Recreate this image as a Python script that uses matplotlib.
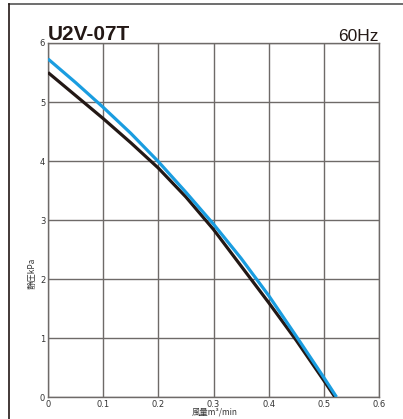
import matplotlib
matplotlib.use("Agg")
import matplotlib.pyplot as plt
from matplotlib.lines import Line2D

plt.rcParams['font.family'] = ['Noto Sans CJK JP', 'DejaVu Sans']

# Blue curve
flow_b = [0.0, 0.05, 0.1, 0.15, 0.2, 0.25, 0.3, 0.35, 0.4, 0.45, 0.5, 0.523]
pres_b = [5.73, 5.33, 4.91, 4.47, 3.99, 3.47, 2.93, 2.35, 1.72, 1.03, 0.33, 0.0]
# Black curve
flow_k = [0.0, 0.05, 0.1, 0.15, 0.2, 0.25, 0.3, 0.35, 0.4, 0.45, 0.5, 0.52]
pres_k = [5.50, 5.11, 4.72, 4.31, 3.88, 3.39, 2.84, 2.22, 1.60, 0.96, 0.28, 0.0]

xticks = [0, 0.1, 0.2, 0.3, 0.4, 0.5, 0.6]
xticklabels = ["0", "0.1", "0.2", "0.3", "0.4", "0.5", "0.6"]
yticks = [0, 1, 2, 3, 4, 5, 6]

W, H = 403, 419
fig = plt.figure(figsize=(W/100, H/100), dpi=100)
ax = fig.add_axes([48/W, 1-397/H, (379-48)/W, (397-43)/H])
ax.set_xlim(0, 0.6)
ax.set_ylim(0, 6)
ax.set_xticks(xticks)
ax.set_xticklabels(xticklabels)
ax.set_yticks(yticks)
ax.tick_params(length=0, labelsize=6, pad=2, colors='#333333')
for lbl in ax.get_xticklabels() + ax.get_yticklabels():
    lbl.set_fontfamily(['Liberation Sans Narrow', 'DejaVu Sans'])
ax.grid(True, color='#6e6a68', linewidth=1.0)
for s in ax.spines.values():
    s.set_color('#6e6a68')
    s.set_linewidth(1.0)

ax.plot(flow_k, pres_k, color='#231815', linewidth=2.3, solid_capstyle='butt',
        solid_joinstyle='round', zorder=3)
ax.plot(flow_b, pres_b, color='#1a9de0', linewidth=2.3, solid_capstyle='butt',
        solid_joinstyle='round', zorder=4)

fig.text(48/W, 1-40/H, "U2V-07T", fontsize=15, fontweight='bold', ha='left', va='baseline',
         family=['Liberation Sans', 'DejaVu Sans'], color='#231815')
fig.text(379/W, 1-41/H, "60Hz", fontsize=12.5, ha='right', va='baseline',
         family=['Liberation Sans Narrow', 'Liberation Sans'], color='#231815')
fig.text(215/W, 1-412/H, "風量m³/min", fontsize=6, ha='center', va='center', color='#333333')
fig.text(32/W, 1-273/H, "静圧kPa", fontsize=6, ha='center', va='center', rotation=90, color='#333333')

fig.add_artist(Line2D([9/W, 1.0], [1-4/H, 1-4/H], transform=fig.transFigure, color='#555555', linewidth=1.2))
fig.add_artist(Line2D([9/W, 9/W], [1-4/H, 0], transform=fig.transFigure, color='#231815', linewidth=1.2))

fig.savefig("out.png", dpi=100)
